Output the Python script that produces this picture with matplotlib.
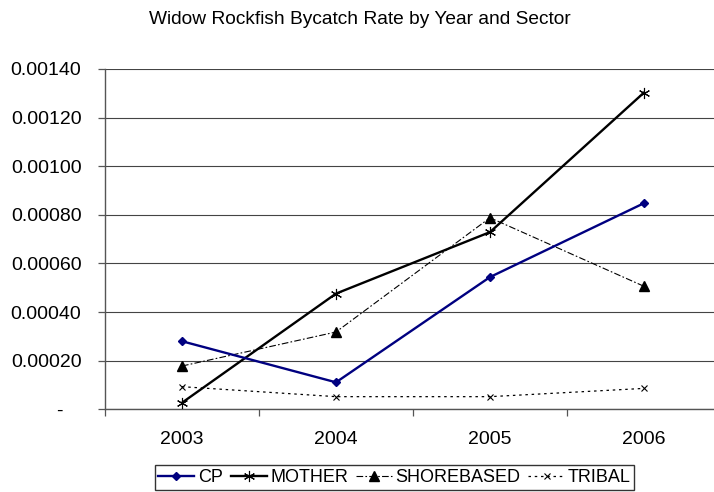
import matplotlib
matplotlib.use("Agg")
import matplotlib.pyplot as plt
from matplotlib.transforms import ScaledTranslation

plt.rcParams['font.family'] = ['Liberation Sans', 'DejaVu Sans']

years = ["2003", "2004", "2005", "2006"]
cp = [0.000280, 0.000111, 0.000544, 0.000848]
mother = [0.000027, 0.000476, 0.000729, 0.001303]
shorebased = [0.000178, 0.000318, 0.000788, 0.000506]
tribal = [0.000093, 0.000052, 0.000052, 0.000086]
yticks = [0, 0.0002, 0.0004, 0.0006, 0.0008, 0.0010, 0.0012, 0.0014]
ytick_labels = ["-", "0.00020", "0.00040", "0.00060", "0.00080", "0.00100", "0.00120", "0.00140"]

fig = plt.figure(figsize=(7.14, 4.92), dpi=100)
ax = fig.add_axes([105/714, 1-409.3/492, 616/714, (409.3-69)/492])

x = list(range(len(years)))
ax.plot(x, cp, color='#000080', lw=1.7, marker='D', ms=4.5, label='CP', zorder=5)
ax.plot(x, mother, color='black', lw=1.7, marker=(6, 2, 0), ms=8, mew=0.8, label='MOTHER', zorder=4)
ax.plot(x, shorebased, color='black', lw=0.8, ls=(0, (6, 2, 1.5, 2)), marker='^', ms=7.5, label='SHOREBASED', zorder=3)
ax.plot(x, tribal, color='black', lw=0.9, ls=(0, (2, 3)), marker='x', ms=4.5, mew=0.8, label='TRIBAL', zorder=3)

ax.set_xlim(-0.5, 3.5)
ax.set_ylim(0, 0.0014)
ax.set_yticks(yticks)
ax.set_yticklabels(ytick_labels)
ax.set_xticks([-0.5, 0.5, 1.5, 2.5, 3.5])
ax.set_xticklabels([])
ax.set_xticks(x, minor=True)
ax.set_xticklabels(years, minor=True)
ax.tick_params(axis='x', which='minor', length=0, pad=16/1.389 + 4, labelsize=14)
ax.tick_params(axis='x', which='major', length=5, width=0.9, color='#555555', direction='out')
ax.tick_params(axis='y', length=5, width=0.9, color='#555555', direction='out', pad=12, labelsize=14)

ax.grid(axis='y', color='#444444', lw=0.8)
ax.set_axisbelow(True)
for s in ['top', 'right']:
    ax.spines[s].set_visible(False)
for s in ['left', 'bottom']:
    ax.spines[s].set_color('#555555')
    ax.spines[s].set_linewidth(1.0)

# Shift the "-" zero label left like Excel accounting format
lbl = ax.get_yticklabels()[0]
lbl.set_transform(lbl.get_transform() + ScaledTranslation(-19/100, 0, fig.dpi_scale_trans))

fig.text(360/714, 1-20/492, "Widow Rockfish Bycatch Rate by Year and Sector",
         ha='center', va='center', fontsize=13.8)

leg = fig.legend(loc='center', bbox_to_anchor=(394.5/714, 1-477.5/492), ncol=4,
                 fontsize=13, frameon=True, fancybox=False, edgecolor='black',
                 handlelength=2.0, handletextpad=0.18, columnspacing=0.45,
                 borderpad=0.2, borderaxespad=0)
leg.get_frame().set_linewidth(1.0)

fig.savefig("out.png", dpi=100)
